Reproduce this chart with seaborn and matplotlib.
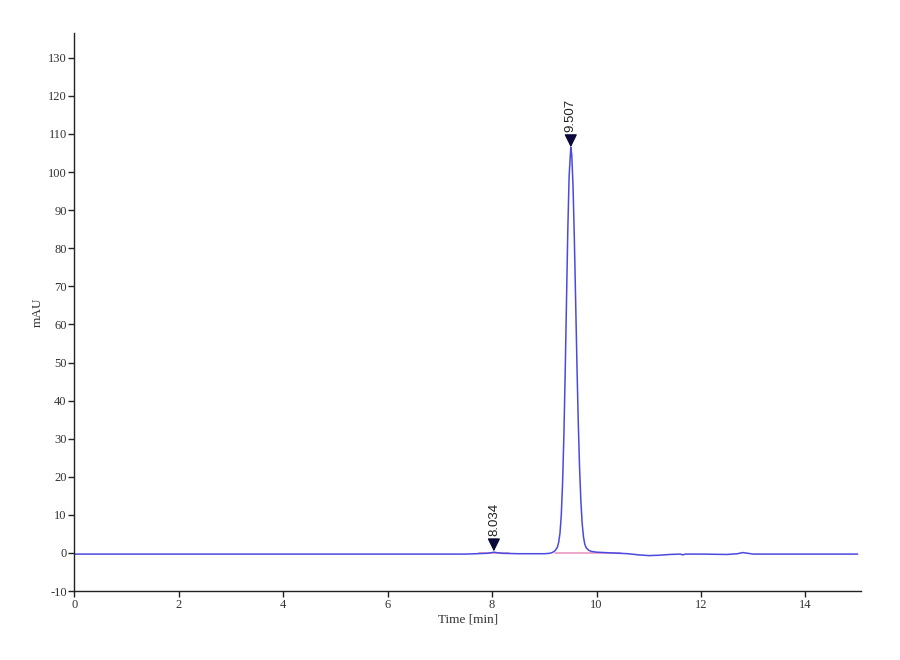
import matplotlib
matplotlib.use("Agg")
import matplotlib.pyplot as plt
import seaborn as sns
import pandas as pd

# ---- data ----
time_min = [0.0, 2.0, 4.0, 6.0, 7.5, 7.9, 8.0, 8.034, 8.08, 8.2, 8.5, 9.0, 9.1, 9.15,
            9.2, 9.225, 9.25, 9.275, 9.3, 9.325, 9.35, 9.375, 9.4, 9.425, 9.45, 9.475,
            9.507, 9.525, 9.55, 9.575, 9.6, 9.625, 9.65, 9.675, 9.7, 9.725, 9.75, 9.775,
            9.8, 9.85, 9.9, 10.0, 10.3, 10.6, 10.8, 11.0, 11.2, 11.4, 11.6, 11.65, 11.7,
            12.0, 12.5, 12.7, 12.8, 12.9, 13.0, 13.5, 14.0, 15.0]
signal_mau = [-0.3, -0.3, -0.3, -0.3, -0.3, -0.1, 0.1, 0.2, 0.1, -0.1, -0.2, -0.2, -0.1, 0.1,
              0.5, 1.0, 1.5, 2.8, 5.2, 10.0, 18.5, 31.0, 47.5, 66.5, 85.0, 99.0,
              106.5, 104.6, 96.2, 82.4, 66.0, 49.2, 34.3, 22.3, 13.6, 7.7, 4.2, 2.3,
              1.4, 0.7, 0.4, 0.2, 0.0, -0.2, -0.5, -0.7, -0.6, -0.4, -0.3, -0.5, -0.3,
              -0.3, -0.4, -0.2, 0.1, -0.1, -0.3, -0.3, -0.3, -0.3]

peak_times = [8.034, 9.507]
peak_heights = [0.4, 106.5]
peak_labels = ["8.034", "9.507"]

baseline_starts = [7.75, 9.2]
baseline_ends = [8.33, 10.47]
baseline_level = [0.0, 0.0]

x_ticks = [0, 2, 4, 6, 8, 10, 12, 14]
y_ticks = [-10, 0, 10, 20, 30, 40, 50, 60, 70, 80, 90, 100, 110, 120, 130]

# ---- style ----
sns.set_theme(style="white")
plt.rcParams["font.family"] = ["Liberation Serif", "DejaVu Serif"]

fig = plt.figure(figsize=(9, 6.6), dpi=100)
ax = fig.add_axes([0.0826, 0.1045, 0.8744, 0.846])

trace = pd.DataFrame({"Time": time_min, "mAU": signal_mau})

# integration baselines (pink)
for s, e, lvl in zip(baseline_starts, baseline_ends, baseline_level):
    seg = pd.DataFrame({"Time": [s, e], "mAU": [lvl, lvl]})
    sns.lineplot(data=seg, x="Time", y="mAU", ax=ax, color="#e890c0",
                 linewidth=1.1, estimator=None, sort=False)

sns.lineplot(data=trace, x="Time", y="mAU", ax=ax, color="#4a4ae0",
             linewidth=1.1, estimator=None, sort=False)

# peak markers with retention-time labels
for t, h, lab in zip(peak_times, peak_heights, peak_labels):
    ax.annotate(lab, xy=(t, h), xytext=(0, 11), textcoords="offset points",
                rotation=90, ha="center", va="bottom", fontsize=9.5,
                family=["Liberation Sans", "DejaVu Sans"], color="#202020",
                arrowprops=dict(arrowstyle="-|>,head_length=0.65,head_width=0.32",
                                mutation_scale=12, color="#0a0a3a", lw=1.0,
                                shrinkA=0, shrinkB=0))

ax.set_xlim(0, 15.07)
ax.set_ylim(-10, 136.6)
ax.set_xticks(x_ticks)
ax.set_yticks(y_ticks)
ax.set_xticklabels([str(v) for v in x_ticks])
ax.set_yticklabels([str(v) for v in y_ticks])
ax.tick_params(axis="both", direction="out", length=4, width=1, color="#222222",
               labelsize=9, labelcolor="#333333", pad=1.5,
               left=True, bottom=True)

sns.despine(ax=ax, top=True, right=True)
for side in ("left", "bottom"):
    ax.spines[side].set_color("#222222")
    ax.spines[side].set_linewidth(1.0)

ax.set_xlabel("Time [min]", fontsize=9.5, color="#333333", labelpad=2)
ax.set_ylabel("mAU", fontsize=9.5, color="#333333", labelpad=3)

fig.savefig("out.png", dpi=100, facecolor="white")
